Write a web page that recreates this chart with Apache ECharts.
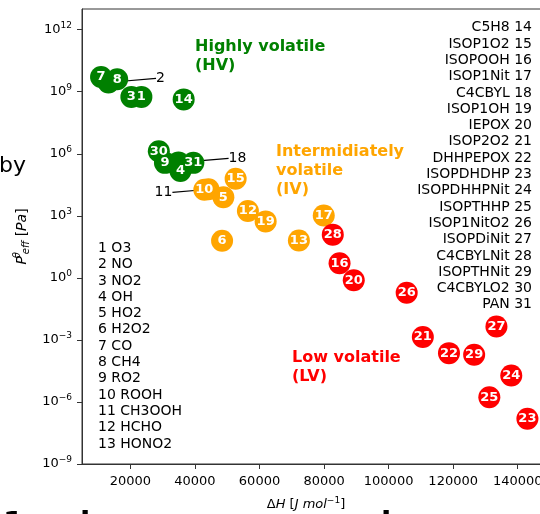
<!DOCTYPE html>
<html><head><meta charset="utf-8">
<script src="https://cdn.jsdelivr.net/npm/echarts@6/dist/echarts.min.js"></script>
<style>html,body{margin:0;padding:0;background:#fff}#c{width:540px;height:514px}</style>
</head><body><div id="c"></div>
<script>
// ---- data ----
const speciesNames = ['O3','NO','NO2','OH','HO2','H2O2','CO','CH4','RO2','ROOH','CH3OOH','HCHO','HONO2',
  'C5H8','ISOP1O2','ISOPOOH','ISOP1Nit','C4CBYL','ISOP1OH','IEPOX','ISOP2O2','DHHPEPOX','ISOPDHDHP',
  'ISOPDHHPNit','ISOPTHHP','ISOP1NitO2','ISOPDiNit','C4CBYLNit','ISOPTHNit','C4CBYLO2','PAN'];
// enthalpy of vaporisation, J/mol
const deltaH = [23400, 13200, 20300, 35500, 48800, 48400, 10900, 15900, 30700, 42900, 44200, 56400, 72200,
  36500, 52600, 84800, 79900, 34900, 61900, 89200, 110600, 118700, 143000, 138000, 131200, 105600, 133400,
  82700, 126500, 28800, 39500];
// log10 of effective saturation vapour pressure, Pa
const log10P = [8.75, 9.45, 8.75, 5.17, 3.90, 1.79, 9.71, 9.60, 5.56, 4.26, 4.28, 3.23, 1.81,
  8.63, 4.79, 0.71, 3.02, 5.58, 2.73, -0.12, -2.86, -3.64, -6.81, -4.72, -5.77, -0.72, -2.35,
  2.09, -3.72, 6.12, 5.56];
const volClass = ['HV','HV','HV','HV','IV','IV','HV','HV','HV','IV','IV','IV','IV',
  'HV','IV','LV','IV','HV','IV','LV','LV','LV','LV','LV','LV','LV','LV','LV','LV','HV','HV'];
const annotatedIds = [2, 11, 18];           // species labelled outside their (hidden) circle
const xTicks = [20000, 40000, 60000, 80000, 100000, 120000, 140000];
const yTickExp = [-9, -6, -3, 0, 3, 6, 9, 12];
const regionLabels = {HV: ['Highly volatile', '(HV)'], IV: ['Intermidiately', 'volatile', '(IV)'], LV: ['Low volatile', '(LV)']};

// ---- styles / layout ----
const classColor = {HV: '#008000', IV: '#FFA500', LV: '#FF0000'};
const annotOffset = {2: [52, -4], 11: [-45, 3], 18: [59, -4]};
const FONT = 'DejaVu Sans';

function item(i) {
  return {value: [deltaH[i], log10P[i], i + 1], itemStyle: {color: classColor[volClass[i]], opacity: 1}};
}
const mainData = [], hiddenData = [];
for (let i = 0; i < speciesNames.length; i++) {
  if (annotatedIds.indexOf(i + 1) >= 0) hiddenData.push(item(i)); else mainData.push(item(i));
}

const graphics = [];
// left list 1..13
for (let i = 0; i < 13; i++) {
  graphics.push({type: 'text', x: 98, y: 248.3 + i * 16.3,
    style: {text: (i + 1) + ' ' + speciesNames[i], font: '14px ' + FONT, fill: '#000', align: 'left', verticalAlign: 'middle'}});
}
// right list 14..31
for (let i = 13; i < speciesNames.length; i++) {
  graphics.push({type: 'text', x: 532, y: 27.7 + (i - 13) * 16.3,
    style: {text: speciesNames[i] + ' ' + (i + 1), font: '14px ' + FONT, fill: '#000', align: 'right', verticalAlign: 'middle'}});
}
const regionPos = {HV: [195, 47], IV: [276, 152], LV: [292, 357.5]};
Object.keys(regionLabels).forEach(function (k) {
  regionLabels[k].forEach(function (line, j) {
    graphics.push({type: 'text', x: regionPos[k][0], y: regionPos[k][1] + j * 19,
      style: {text: line, font: 'bold 16px ' + FONT, fill: classColor[k], align: 'left', verticalAlign: 'middle'}});
  });
});
// cropped fragments of neighbouring figure text
graphics.push({type: 'text', x: -1, y: 166, style: {text: 'by', font: '22px ' + FONT, fill: '#000', verticalAlign: 'middle'}});
graphics.push({type: 'text', x: 3, y: 510, style: {text: '1', font: 'bold 30px ' + FONT, fill: '#000', verticalAlign: 'top'}});
graphics.push({type: 'text', x: 80, y: 510, style: {text: 'l', font: 'bold 30px ' + FONT, fill: '#000', verticalAlign: 'top'}});
graphics.push({type: 'text', x: 381, y: 510, style: {text: 'l', font: 'bold 30px ' + FONT, fill: '#000', verticalAlign: 'top'}});

const axisColor = '#333';
const chart = echarts.init(document.getElementById('c'), null, {renderer: 'canvas'});
chart.setOption({
  animation: false,
  backgroundColor: '#fff',
  textStyle: {fontFamily: FONT},
  grid: {left: 82, top: 9, width: 468, height: 455, show: true, borderColor: axisColor, borderWidth: 1,
    backgroundColor: 'transparent', containLabel: false, outerBoundsMode: 'none'},
  xAxis: {
    type: 'value', min: 5000, max: 150000,
    axisLine: {show: true, onZero: false, lineStyle: {color: axisColor, width: 1}},
    axisTick: {show: true, customValues: xTicks, length: 5, lineStyle: {color: axisColor}},
    axisLabel: {customValues: xTicks, color: '#000', fontSize: 13, margin: 11, fontFamily: FONT,
      formatter: function (v) { return String(v); }},
    splitLine: {show: false},
    name: '{n|Δ}{i|H}{n| [}{i|J mol}{s|−1}{n|]}',
    nameLocation: 'middle', nameGap: 32,
    nameTextStyle: {padding: [0, 20, 0, 0], rich: {
      n: {fontSize: 13, color: '#000', fontFamily: FONT},
      i: {fontSize: 13, color: '#000', fontStyle: 'italic', fontFamily: FONT},
      s: {fontSize: 9, color: '#000', padding: [0, 0, 8, 0], fontFamily: FONT}
    }}
  },
  yAxis: {
    type: 'value', min: -9, max: 13,
    axisLine: {show: true, onZero: false, lineStyle: {color: axisColor, width: 1}},
    axisTick: {show: true, customValues: yTickExp, length: 5, lineStyle: {color: axisColor}},
    axisLabel: {customValues: yTickExp, margin: 10,
      formatter: function (v) { return '{b|10}{s|' + (v < 0 ? '−' + (-v) : v) + '}'; },
      rich: {
        b: {fontSize: 13, color: '#000', fontFamily: FONT},
        s: {fontSize: 9, color: '#000', padding: [0, 0, 8, 0], fontFamily: FONT}
      }},
    splitLine: {show: false},
    name: '{i|P}{sup|θ}{sub|eff}{n| [}{i|Pa}{n|]}',
    nameLocation: 'middle', nameRotate: 90, nameGap: 50,
    nameTextStyle: {rich: {
      i: {fontSize: 14, color: '#000', fontStyle: 'italic', fontFamily: FONT},
      n: {fontSize: 14, color: '#000', fontFamily: FONT},
      sup: {fontSize: 10, color: '#000', fontStyle: 'italic', width: 0, padding: [0, 0, 9, 1], fontFamily: FONT},
      sub: {fontSize: 10, color: '#000', fontStyle: 'italic', padding: [8, 0, 0, 1], fontFamily: FONT}
    }}
  },
  series: [
    {
      type: 'scatter', z: 1, symbolSize: 22, data: hiddenData,
      itemStyle: {opacity: 1},
      label: {show: true, position: 'inside', color: '#000', fontSize: 14, fontFamily: FONT,
        formatter: function (p) { return p.value[2]; }},
      labelLayout: function (p) {
        const id = hiddenData[p.dataIndex].value[2];
        return {dx: annotOffset[id][0], dy: annotOffset[id][1]};
      },
      labelLine: {show: true, lineStyle: {color: '#000', width: 1.2}},
      emphasis: {disabled: true}
    },
    {
      type: 'scatter', z: 2, symbolSize: 22, data: mainData,
      itemStyle: {opacity: 1},
      label: {show: true, position: 'inside', color: '#fff', fontSize: 13, fontWeight: 'bold', fontFamily: FONT,
        formatter: function (p) { return p.value[2]; }},
      emphasis: {disabled: true}
    }
  ],
  graphic: graphics
});
</script></body></html>
